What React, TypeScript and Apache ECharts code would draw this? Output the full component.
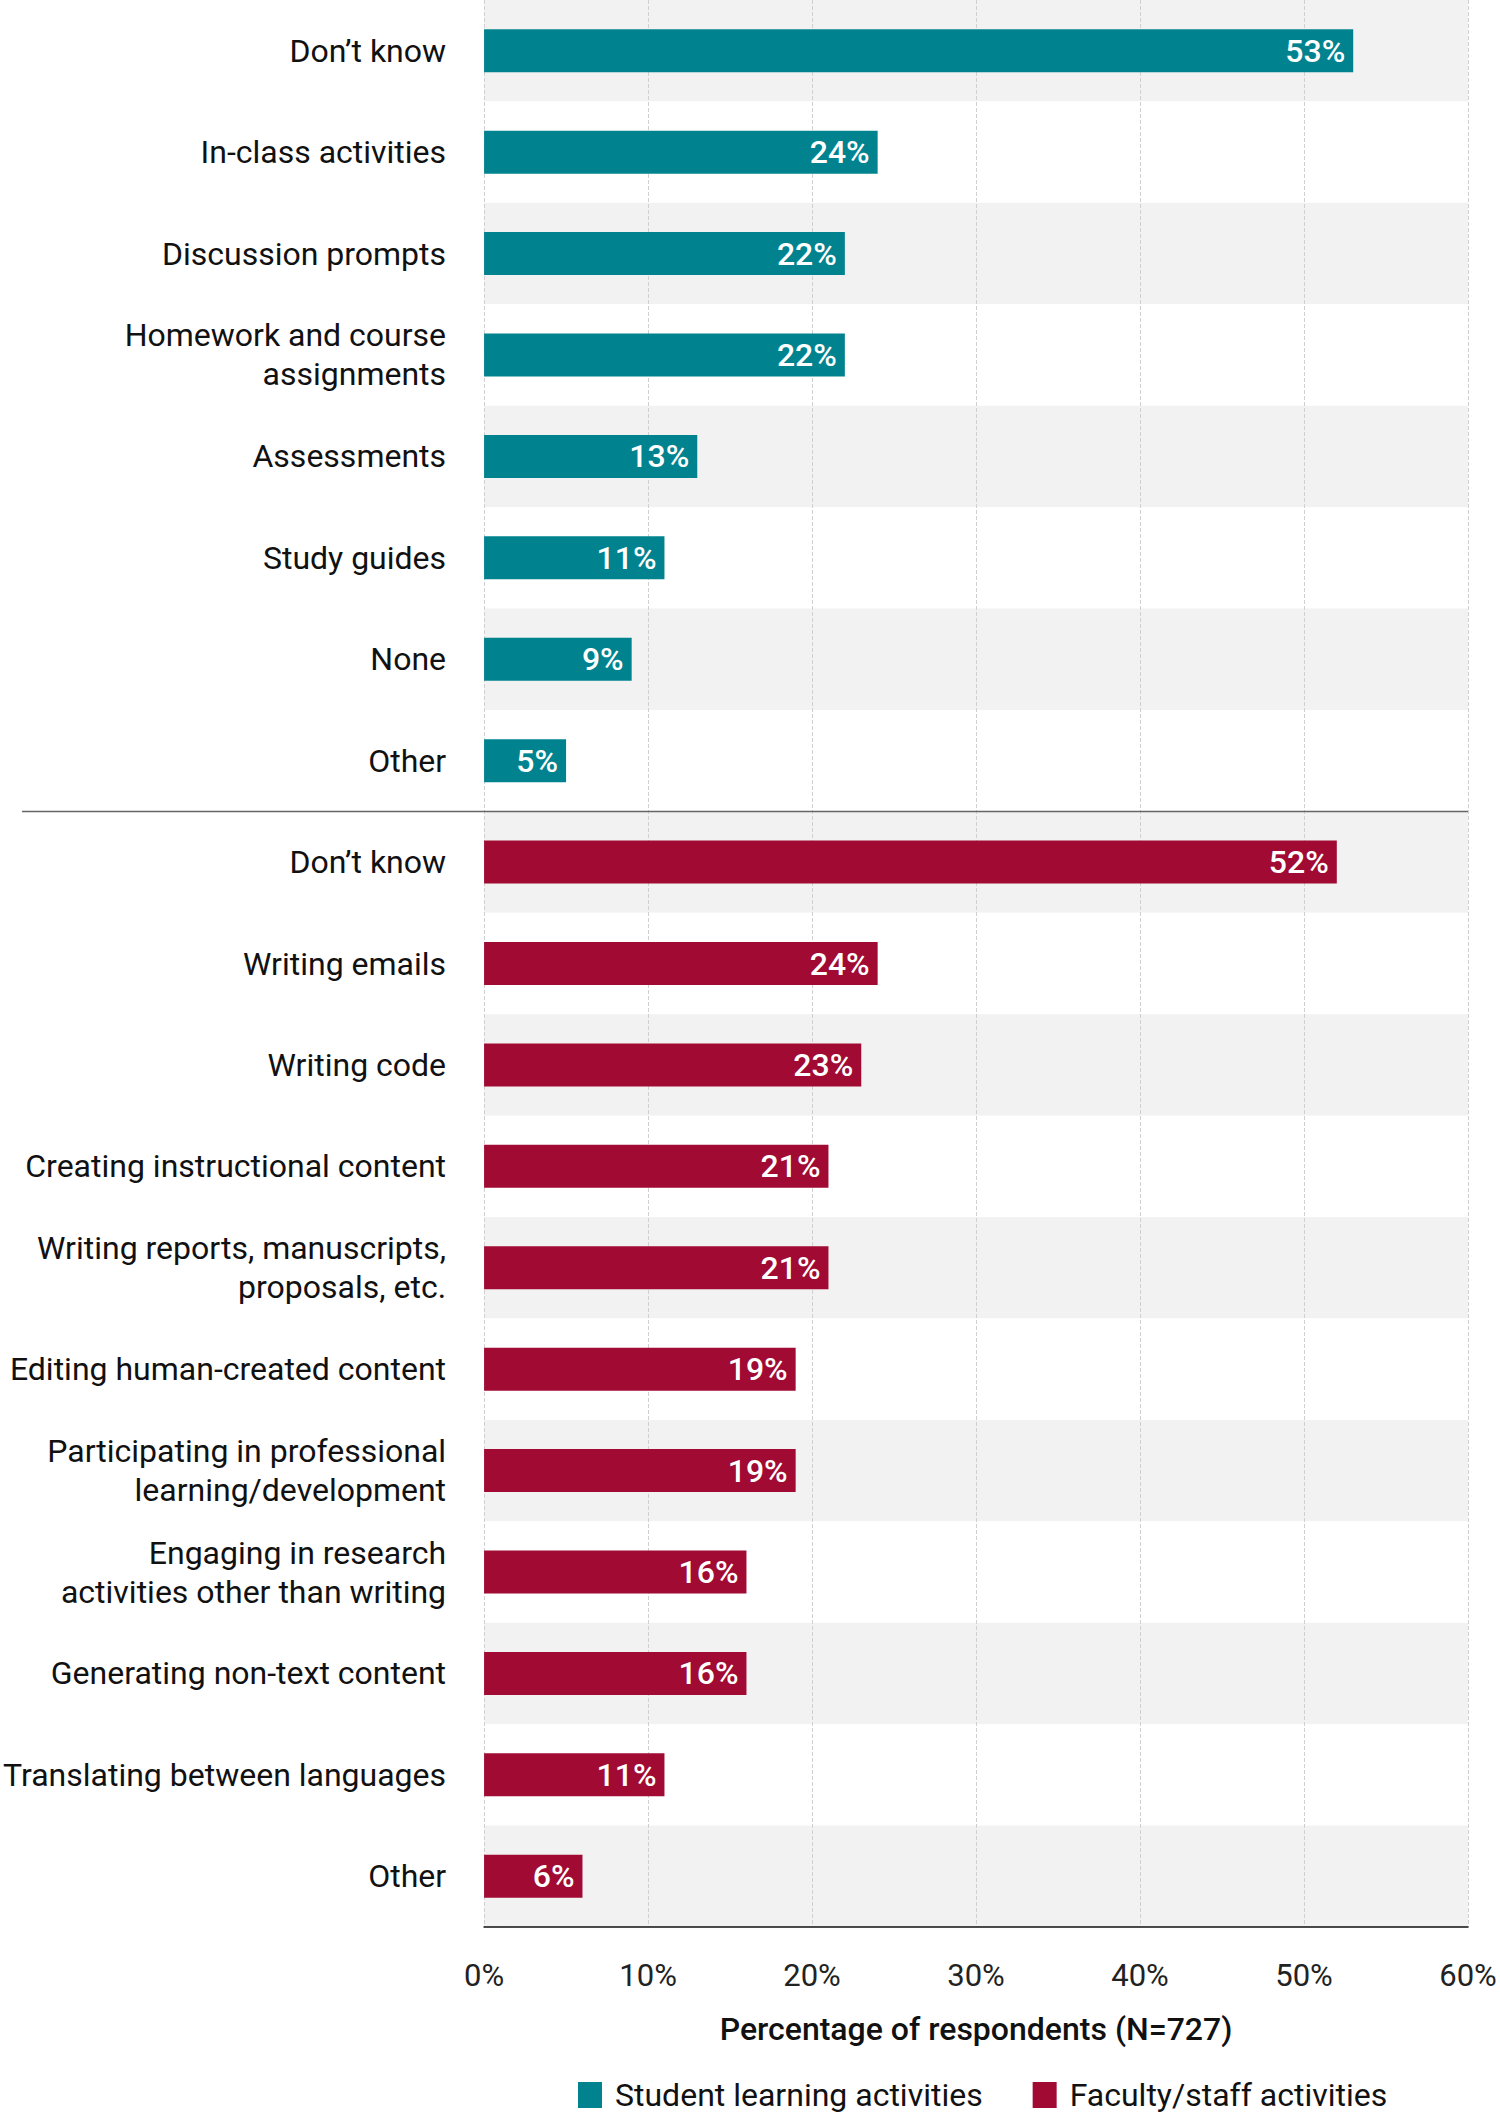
import React, { useEffect, useRef } from 'react';
import * as echarts from 'echarts';

const studentCategories = [
	'Don’t know',
	'In-class activities',
	'Discussion prompts',
	'Homework and course\nassignments',
	'Assessments',
	'Study guides',
	'None',
	'Other'
];
const studentValues = [53, 24, 22, 22, 13, 11, 9, 5];

const facultyCategories = [
	'Don’t know',
	'Writing emails',
	'Writing code',
	'Creating instructional content',
	'Writing reports, manuscripts,\nproposals, etc.',
	'Editing human-created content',
	'Participating in professional\nlearning/development',
	'Engaging in research\nactivities other than writing',
	'Generating non-text content',
	'Translating between languages',
	'Other'
];
const facultyValues = [52, 24, 23, 21, 21, 19, 19, 16, 16, 11, 6];

const seriesNames = ['Student learning activities', 'Faculty/staff activities'];
const seriesColors = ['#00838f', '#a00a33'];

const xMin = 0;
const xMax = 60;
const xInterval = 10;

const FONT = 'Roboto, "Noto Sans", sans-serif';

const App: React.FC = () => {
	const chartRef = useRef<HTMLDivElement>(null);

	useEffect(() => {
		if (!chartRef.current) return;
		document.body.style.margin = '0';
		const chart = echarts.init(chartRef.current, null, { renderer: 'svg' });

		const allCategories = [...studentCategories, ...facultyCategories];
		const studentData = [...studentValues, ...facultyCategories.map(() => '-')];
		const facultyData = [...studentCategories.map(() => '-'), ...facultyValues];

		const barLabel = {
			show: true,
			position: 'insideRight' as const,
			distance: 8,
			formatter: '{c}%',
			color: '#fff',
			fontSize: 32,
			fontWeight: 500,
			fontFamily: FONT
		};

		const option: echarts.EChartsOption = {
			animation: false,
			textStyle: { fontFamily: FONT },
			grid: { left: 482, right: 32, top: 0, bottom: 193, containLabel: false },
			legend: {
				top: 2074,
				left: 573,
				itemWidth: 24,
				itemHeight: 26,
				itemGap: 50,
				icon: 'rect',
				textStyle: { fontSize: 32, color: '#111', fontFamily: FONT, padding: [0, 0, 0, 8] },
				data: seriesNames
			},
			xAxis: {
				type: 'value',
				min: xMin,
				max: xMax,
				interval: xInterval,
				name: 'Percentage of respondents (N=727)',
				nameLocation: 'middle',
				nameGap: 86,
				nameTextStyle: { fontSize: 32, color: '#111', fontWeight: 500, fontFamily: FONT },
				axisLine: { show: true, lineStyle: { color: '#111', width: 1.5 } },
				axisTick: { show: false },
				axisLabel: { formatter: '{value}%', fontSize: 31, color: '#222', margin: 33, fontFamily: FONT },
				splitLine: { show: true, lineStyle: { type: 'dashed', color: '#d0d0d0', width: 1 } }
			},
			yAxis: {
				type: 'category',
				inverse: true,
				data: allCategories,
				axisLine: { show: false },
				axisTick: { show: false },
				axisLabel: {
					fontSize: 32,
					color: '#111',
					margin: 38,
					lineHeight: 39,
					align: 'right',
					fontFamily: FONT
				},
				splitLine: { show: false },
				splitArea: { show: true, areaStyle: { color: ['#f2f2f2', '#ffffff'] } }
			},
			series: [
				{
					name: seriesNames[0],
					type: 'bar',
					barWidth: 43,
					barGap: '-100%',
					itemStyle: { color: seriesColors[0] },
					label: barLabel,
					data: studentData
				},
				{
					name: seriesNames[1],
					type: 'bar',
					barWidth: 43,
					barGap: '-100%',
					itemStyle: { color: seriesColors[1] },
					label: barLabel,
					data: facultyData
				}
			]
		};

		chart.setOption(option);

		// separator line between the two groups
		const yA = chart.convertToPixel({ yAxisIndex: 0 }, studentCategories.length - 1) as number;
		const yB = chart.convertToPixel({ yAxisIndex: 0 }, studentCategories.length) as number;
		const sepY = Math.round((yA + yB) / 2) + 0.5;
		const xRight = chart.convertToPixel({ xAxisIndex: 0 }, xMax) as number;
		chart.setOption({
			graphic: [
				{
					type: 'line',
					z: 100,
					shape: { x1: 22, y1: sepY, x2: xRight, y2: sepY },
					style: { stroke: '#666', lineWidth: 1.5 }
				}
			]
		});

		return () => {
			chart.dispose();
		};
	}, []);

	return <div ref={chartRef} style={{ width: '1500px', height: '2120px' }} />;
};

export default App;
